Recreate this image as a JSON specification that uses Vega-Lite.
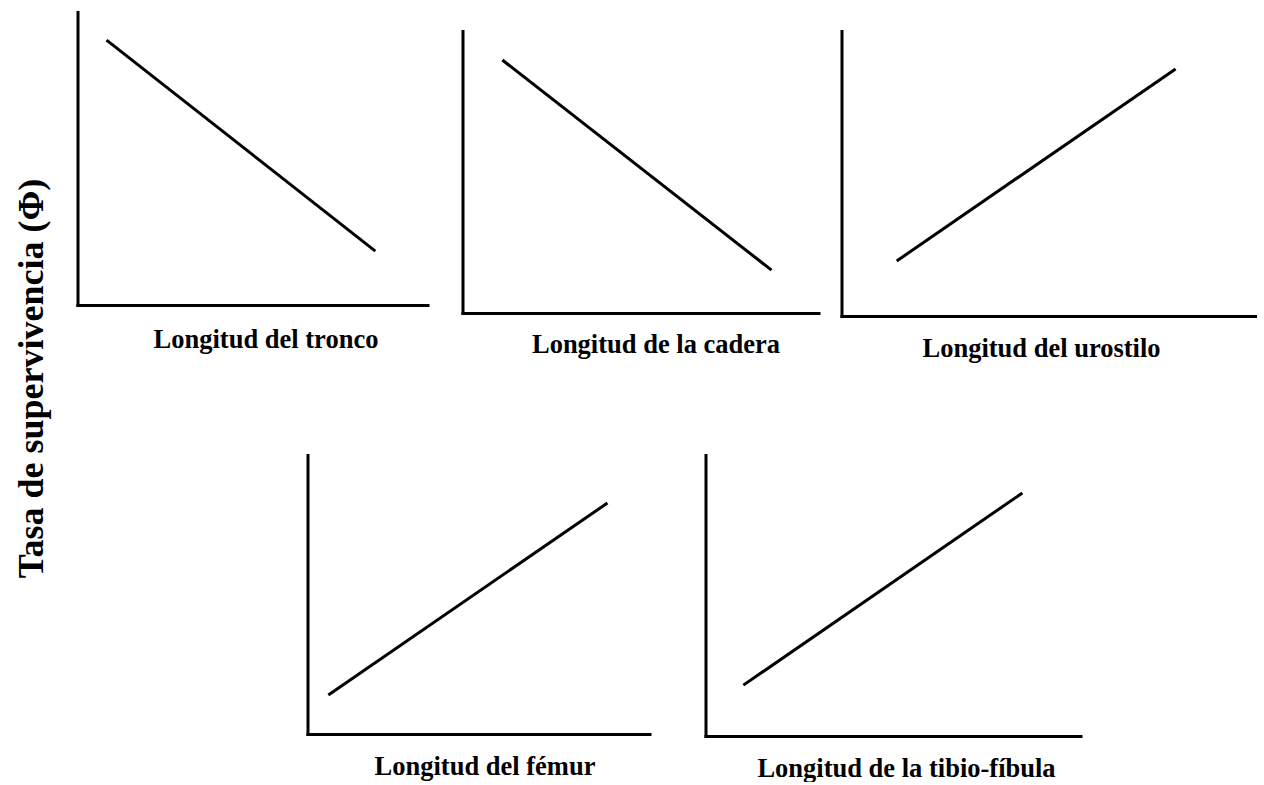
{
  "$schema": "https://vega.github.io/schema/vega-lite/v6.json",
  "padding": {"left": 0, "top": 12, "right": 0, "bottom": 0},
  "background": "white",
  "datasets": {
    "lines": [
      {"panel": "tronco", "x": 0.83, "y": 9.04},
      {"panel": "tronco", "x": 8.51, "y": 1.84},
      {"panel": "cadera", "x": 1.12, "y": 8.97},
      {"panel": "cadera", "x": 8.68, "y": 1.52},
      {"panel": "urostilo", "x": 1.33, "y": 1.93},
      {"panel": "urostilo", "x": 8.05, "y": 8.67},
      {"panel": "femur", "x": 0.61, "y": 1.40},
      {"panel": "femur", "x": 8.77, "y": 8.28},
      {"panel": "tibio", "x": 1.01, "y": 1.81},
      {"panel": "tibio", "x": 8.45, "y": 8.65}
    ],
    "ylabel": [{"text": "Tasa de supervivencia (Φ)"}]
  },
  "config": {
    "view": {"stroke": null},
    "font": "Liberation Serif",
    "axis": {
      "domainColor": "black",
      "domainWidth": 3,
      "domainCap": "square",
      "ticks": false,
      "labels": false,
      "grid": false,
      "titleFont": "Liberation Serif",
      "titleFontSize": 26.5,
      "titleFontWeight": "bold",
      "titleColor": "black",
      "titleBaseline": "alphabetic",
      "titleAlign": "center"
    },
    "line": {"color": "black", "strokeWidth": 3}
  },
  "spacing": 13.5,
  "hconcat": [
    {
      "width": 64,
      "height": 733,
      "data": {"name": "ylabel"},
      "mark": {"type": "text", "angle": 270, "font": "Liberation Serif", "fontSize": 36, "fontWeight": "bold", "color": "black", "align": "center", "baseline": "middle"},
      "encoding": {"text": {"field": "text", "type": "nominal"}}
    },
    {
      "spacing": 93,
      "vconcat": [
        {
          "spacing": 35,
          "hconcat": [
            {
              "width": 350,
              "height": 293,
              "data": {"name": "lines"},
              "transform": [{"filter": "datum.panel === 'tronco'"}],
              "mark": "line",
              "encoding": {
                "x": {"field": "x", "type": "quantitative", "scale": {"domain": [0, 10], "nice": false}, "axis": {"title": "Longitud del tronco", "titleX": 188, "titleY": 42}},
                "y": {"field": "y", "type": "quantitative", "scale": {"domain": [0, 10], "nice": false}, "axis": {"title": null}}
              }
            },
            {
              "spacing": 23,
              "hconcat": [
                {
                  "width": 356,
                  "height": 301,
                  "data": {"name": "lines"},
                  "transform": [{"filter": "datum.panel === 'cadera'"}],
                  "mark": "line",
                  "encoding": {
                    "x": {"field": "x", "type": "quantitative", "scale": {"domain": [0, 10], "nice": false}, "axis": {"title": "Longitud de la cadera", "titleX": 193, "titleY": 39}},
                    "y": {"field": "y", "type": "quantitative", "scale": {"domain": [0, 10], "nice": false, "range": [301, 19]}, "axis": {"title": null}}
                  }
                },
                {
                  "width": 415,
                  "height": 304,
                  "data": {"name": "lines"},
                  "transform": [{"filter": "datum.panel === 'urostilo'"}],
                  "mark": "line",
                  "encoding": {
                    "x": {"field": "x", "type": "quantitative", "scale": {"domain": [0, 10], "nice": false}, "axis": {"title": "Longitud del urostilo", "titleX": 199.5, "titleY": 40}},
                    "y": {"field": "y", "type": "quantitative", "scale": {"domain": [0, 10], "nice": false, "range": [304, 19]}, "axis": {"title": null}}
                  }
                }
              ]
            }
          ]
        },
        {
          "spacing": 56,
          "hconcat": [
            {
              "width": 174,
              "height": 10,
              "data": {"values": []},
              "mark": "point"
            },
            {
              "width": 342,
              "height": 279,
              "data": {"name": "lines"},
              "transform": [{"filter": "datum.panel === 'femur'"}],
              "mark": "line",
              "encoding": {
                "x": {"field": "x", "type": "quantitative", "scale": {"domain": [0, 10], "nice": false}, "axis": {"title": "Longitud del fémur", "titleX": 177, "titleY": 40}},
                "y": {"field": "y", "type": "quantitative", "scale": {"domain": [0, 10], "nice": false}, "axis": {"title": null}}
              }
            },
            {
              "width": 375,
              "height": 281,
              "data": {"name": "lines"},
              "transform": [{"filter": "datum.panel === 'tibio'"}],
              "mark": "line",
              "encoding": {
                "x": {"field": "x", "type": "quantitative", "scale": {"domain": [0, 10], "nice": false}, "axis": {"title": "Longitud de la tibio-fíbula", "titleX": 200.5, "titleY": 40}},
                "y": {"field": "y", "type": "quantitative", "scale": {"domain": [0, 10], "nice": false}, "axis": {"title": null}}
              }
            }
          ]
        }
      ]
    }
  ]
}
